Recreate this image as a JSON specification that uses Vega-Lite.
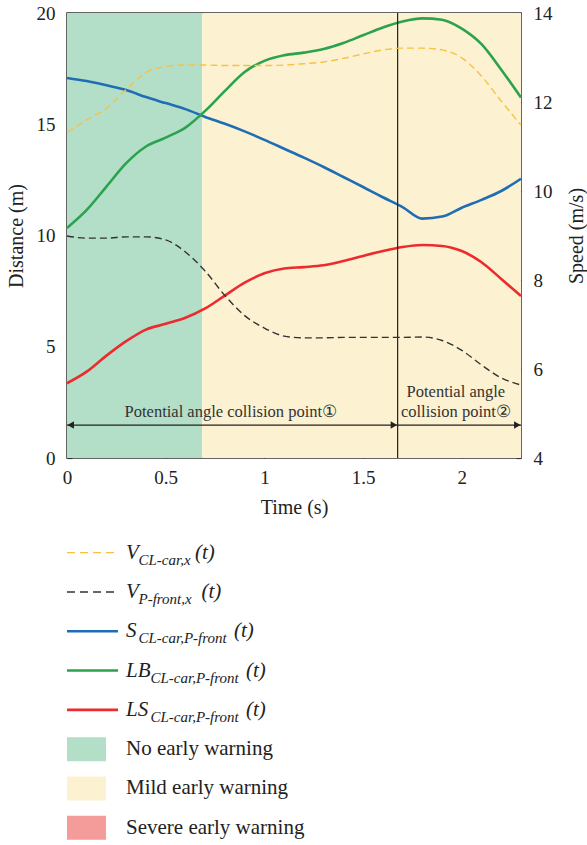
{
  "$schema": "https://vega.github.io/schema/vega-lite/v6.json",
  "background": "white",
  "padding": {"left": 5, "top": 3, "right": 0, "bottom": 5},
  "config": {
    "font": "Liberation Serif",
    "view": {"stroke": "#333", "strokeWidth": 1.5},
    "axis": {
      "labelFont": "Liberation Serif", "titleFont": "Liberation Serif",
      "labelFontSize": 19, "titleFontSize": 20, "titleFontWeight": "normal",
      "labelColor": "#222", "titleColor": "#222", "domain": false,
      "tickColor": "#333", "tickWidth": 1.2, "grid": false, "tickSize": -5, "labelPadding": 15,
      "labelFlush": false, "labelOverlap": false, "titlePadding": 10
    },
    "axisY": {"labelPadding": 17}
  },
  "datasets": {
    "curves": [
      {"t":0,"series":"S_CL-car,P-front","v":17.08},{"t":0.1,"series":"S_CL-car,P-front","v":16.94},{"t":0.2,"series":"S_CL-car,P-front","v":16.75},{"t":0.3,"series":"S_CL-car,P-front","v":16.54},{"t":0.4,"series":"S_CL-car,P-front","v":16.22},{"t":0.5,"series":"S_CL-car,P-front","v":15.95},{"t":0.6,"series":"S_CL-car,P-front","v":15.68},{"t":0.7,"series":"S_CL-car,P-front","v":15.33},{"t":0.8,"series":"S_CL-car,P-front","v":15.02},{"t":0.9,"series":"S_CL-car,P-front","v":14.68},{"t":1.0,"series":"S_CL-car,P-front","v":14.3},{"t":1.1,"series":"S_CL-car,P-front","v":13.9},{"t":1.2,"series":"S_CL-car,P-front","v":13.5},{"t":1.3,"series":"S_CL-car,P-front","v":13.08},{"t":1.4,"series":"S_CL-car,P-front","v":12.63},{"t":1.5,"series":"S_CL-car,P-front","v":12.18},{"t":1.6,"series":"S_CL-car,P-front","v":11.72},{"t":1.7,"series":"S_CL-car,P-front","v":11.28},{"t":1.8,"series":"S_CL-car,P-front","v":10.76},{"t":1.9,"series":"S_CL-car,P-front","v":10.85},{"t":2.0,"series":"S_CL-car,P-front","v":11.25},{"t":2.1,"series":"S_CL-car,P-front","v":11.6},{"t":2.2,"series":"S_CL-car,P-front","v":12.0},{"t":2.3,"series":"S_CL-car,P-front","v":12.55},
      {"t":0,"series":"LB_CL-car,P-front","v":10.34},{"t":0.1,"series":"LB_CL-car,P-front","v":11.15},{"t":0.2,"series":"LB_CL-car,P-front","v":12.2},{"t":0.3,"series":"LB_CL-car,P-front","v":13.25},{"t":0.4,"series":"LB_CL-car,P-front","v":14.0},{"t":0.5,"series":"LB_CL-car,P-front","v":14.4},{"t":0.6,"series":"LB_CL-car,P-front","v":14.85},{"t":0.7,"series":"LB_CL-car,P-front","v":15.6},{"t":0.8,"series":"LB_CL-car,P-front","v":16.5},{"t":0.9,"series":"LB_CL-car,P-front","v":17.35},{"t":1.0,"series":"LB_CL-car,P-front","v":17.85},{"t":1.1,"series":"LB_CL-car,P-front","v":18.1},{"t":1.2,"series":"LB_CL-car,P-front","v":18.22},{"t":1.3,"series":"LB_CL-car,P-front","v":18.38},{"t":1.4,"series":"LB_CL-car,P-front","v":18.65},{"t":1.5,"series":"LB_CL-car,P-front","v":19.0},{"t":1.6,"series":"LB_CL-car,P-front","v":19.35},{"t":1.7,"series":"LB_CL-car,P-front","v":19.62},{"t":1.8,"series":"LB_CL-car,P-front","v":19.76},{"t":1.9,"series":"LB_CL-car,P-front","v":19.7},{"t":2.0,"series":"LB_CL-car,P-front","v":19.3},{"t":2.1,"series":"LB_CL-car,P-front","v":18.6},{"t":2.2,"series":"LB_CL-car,P-front","v":17.45},{"t":2.3,"series":"LB_CL-car,P-front","v":16.2},
      {"t":0,"series":"LS_CL-car,P-front","v":3.36},{"t":0.1,"series":"LS_CL-car,P-front","v":3.88},{"t":0.2,"series":"LS_CL-car,P-front","v":4.6},{"t":0.3,"series":"LS_CL-car,P-front","v":5.25},{"t":0.4,"series":"LS_CL-car,P-front","v":5.77},{"t":0.5,"series":"LS_CL-car,P-front","v":6.03},{"t":0.6,"series":"LS_CL-car,P-front","v":6.3},{"t":0.7,"series":"LS_CL-car,P-front","v":6.72},{"t":0.8,"series":"LS_CL-car,P-front","v":7.3},{"t":0.9,"series":"LS_CL-car,P-front","v":7.88},{"t":1.0,"series":"LS_CL-car,P-front","v":8.3},{"t":1.1,"series":"LS_CL-car,P-front","v":8.52},{"t":1.2,"series":"LS_CL-car,P-front","v":8.58},{"t":1.3,"series":"LS_CL-car,P-front","v":8.66},{"t":1.4,"series":"LS_CL-car,P-front","v":8.85},{"t":1.5,"series":"LS_CL-car,P-front","v":9.08},{"t":1.6,"series":"LS_CL-car,P-front","v":9.3},{"t":1.7,"series":"LS_CL-car,P-front","v":9.48},{"t":1.8,"series":"LS_CL-car,P-front","v":9.57},{"t":1.9,"series":"LS_CL-car,P-front","v":9.53},{"t":2.0,"series":"LS_CL-car,P-front","v":9.3},{"t":2.1,"series":"LS_CL-car,P-front","v":8.8},{"t":2.2,"series":"LS_CL-car,P-front","v":8.05},{"t":2.3,"series":"LS_CL-car,P-front","v":7.28},
      {"t":0,"series":"V_CL-car,x","v":11.32},{"t":0.1,"series":"V_CL-car,x","v":11.6},{"t":0.2,"series":"V_CL-car,x","v":11.86},{"t":0.3,"series":"V_CL-car,x","v":12.28},{"t":0.4,"series":"V_CL-car,x","v":12.66},{"t":0.5,"series":"V_CL-car,x","v":12.8},{"t":0.6,"series":"V_CL-car,x","v":12.83},{"t":0.7,"series":"V_CL-car,x","v":12.83},{"t":0.8,"series":"V_CL-car,x","v":12.82},{"t":0.9,"series":"V_CL-car,x","v":12.82},{"t":1.0,"series":"V_CL-car,x","v":12.82},{"t":1.1,"series":"V_CL-car,x","v":12.83},{"t":1.2,"series":"V_CL-car,x","v":12.86},{"t":1.3,"series":"V_CL-car,x","v":12.9},{"t":1.4,"series":"V_CL-car,x","v":12.98},{"t":1.5,"series":"V_CL-car,x","v":13.08},{"t":1.6,"series":"V_CL-car,x","v":13.17},{"t":1.7,"series":"V_CL-car,x","v":13.21},{"t":1.8,"series":"V_CL-car,x","v":13.21},{"t":1.9,"series":"V_CL-car,x","v":13.17},{"t":2.0,"series":"V_CL-car,x","v":12.99},{"t":2.1,"series":"V_CL-car,x","v":12.58},{"t":2.2,"series":"V_CL-car,x","v":12.02},{"t":2.3,"series":"V_CL-car,x","v":11.48},
      {"t":0,"series":"V_P-front,x","v":8.99},{"t":0.1,"series":"V_P-front,x","v":8.94},{"t":0.2,"series":"V_P-front,x","v":8.94},{"t":0.3,"series":"V_P-front,x","v":8.97},{"t":0.4,"series":"V_P-front,x","v":8.97},{"t":0.5,"series":"V_P-front,x","v":8.9},{"t":0.6,"series":"V_P-front,x","v":8.63},{"t":0.7,"series":"V_P-front,x","v":8.2},{"t":0.8,"series":"V_P-front,x","v":7.65},{"t":0.9,"series":"V_P-front,x","v":7.2},{"t":1.0,"series":"V_P-front,x","v":6.92},{"t":1.1,"series":"V_P-front,x","v":6.74},{"t":1.2,"series":"V_P-front,x","v":6.7},{"t":1.3,"series":"V_P-front,x","v":6.7},{"t":1.4,"series":"V_P-front,x","v":6.71},{"t":1.5,"series":"V_P-front,x","v":6.71},{"t":1.6,"series":"V_P-front,x","v":6.71},{"t":1.7,"series":"V_P-front,x","v":6.71},{"t":1.8,"series":"V_P-front,x","v":6.72},{"t":1.9,"series":"V_P-front,x","v":6.64},{"t":2.0,"series":"V_P-front,x","v":6.42},{"t":2.1,"series":"V_P-front,x","v":6.09},{"t":2.2,"series":"V_P-front,x","v":5.8},{"t":2.3,"series":"V_P-front,x","v":5.64}
    ],
    "regions": [
      {"t0": 0, "t1": 0.685, "level": "No early warning"},
      {"t0": 0.685, "t1": 2.3, "level": "Mild early warning"}
    ],
    "marker": [{"t": 1.675}],
    "arrows": [{"t0": 0, "t1": 2.3, "y": 1.48}],
    "heads": [
      {"t": 0.019, "y": 1.48, "dir": "left"},
      {"t": 1.656, "y": 1.48, "dir": "right"},
      {"t": 2.281, "y": 1.48, "dir": "right"}
    ],
    "notes": [
      {"t": 0.83, "y": 2.07, "label": "Potential angle collision point①"},
      {"t": 1.97, "y": 2.97, "label": "Potential angle"},
      {"t": 1.97, "y": 2.07, "label": "collision point②"}
    ],
    "legend": [
      {"series": "V_CL-car,x", "kind": "dash", "main": "V", "sub": "CL-car,x"},
      {"series": "V_P-front,x", "kind": "dash", "main": "V", "sub": "P-front,x"},
      {"series": "S_CL-car,P-front", "kind": "solid", "main": "S", "sub": "CL-car,P-front"},
      {"series": "LB_CL-car,P-front", "kind": "solid", "main": "LB", "sub": "CL-car,P-front"},
      {"series": "LS_CL-car,P-front", "kind": "solid", "main": "LS", "sub": "CL-car,P-front"},
      {"series": "No early warning", "kind": "area", "main": "No early warning", "sub": ""},
      {"series": "Mild early warning", "kind": "area", "main": "Mild early warning", "sub": ""},
      {"series": "Severe early warning", "kind": "area", "main": "Severe early warning", "sub": ""}
    ]
  },
  "spacing": 15,
  "vconcat": [
    {
      "width": 454,
      "height": 445,
      "layer": [
        {
          "layer": [
            {
              "data": {"name": "regions"},
              "mark": {"type": "rect"},
              "encoding": {
                "x": {"field": "t0", "type": "quantitative", "scale": {"domain": [0, 2.3], "nice": false, "zero": false}, "axis": {"title": "Time (s)", "values": [0, 0.5, 1, 1.5, 2], "format": "~g"}},
                "x2": {"field": "t1"},
                "color": {"field": "level", "type": "nominal", "legend": null,
                  "scale": {"domain": ["V_CL-car,x", "V_P-front,x", "S_CL-car,P-front", "LB_CL-car,P-front", "LS_CL-car,P-front", "No early warning", "Mild early warning", "Severe early warning"],
                            "range": ["#f6c244", "#333333", "#1f6db5", "#2ba24c", "#ec2b2e", "#b3dfc9", "#fcf1d0", "#f39c99"]}}
              }
            },
            {
              "data": {"name": "curves"},
              "transform": [{"filter": "datum.series=='S_CL-car,P-front' || datum.series=='LB_CL-car,P-front' || datum.series=='LS_CL-car,P-front'"}],
              "mark": {"type": "line", "strokeWidth": 2.6, "interpolate": "monotone"},
              "encoding": {
                "x": {"field": "t", "type": "quantitative", "axis": {"title": "Time (s)", "values": [0, 0.5, 1, 1.5, 2], "format": "~g"}},
                "y": {"field": "v", "type": "quantitative", "scale": {"domain": [0, 20], "nice": false}, "axis": {"title": "Distance (m)", "values": [0, 5, 10, 15, 20]}},
                "color": {"field": "series", "type": "nominal", "legend": null}
              }
            },
            {
              "data": {"name": "marker"},
              "mark": {"type": "rule", "color": "#222", "strokeWidth": 1.2},
              "encoding": {"x": {"field": "t", "type": "quantitative", "axis": {"title": "Time (s)", "values": [0, 0.5, 1, 1.5, 2], "format": "~g"}}}
            },
            {
              "data": {"name": "arrows"},
              "mark": {"type": "rule", "color": "#222", "strokeWidth": 1.2},
              "encoding": {
                "x": {"field": "t0", "type": "quantitative", "axis": {"title": "Time (s)", "values": [0, 0.5, 1, 1.5, 2], "format": "~g"}},
                "x2": {"field": "t1"},
                "y": {"field": "y", "type": "quantitative", "axis": {"title": "Distance (m)", "values": [0, 5, 10, 15, 20]}}
              }
            },
            {
              "data": {"name": "heads"},
              "mark": {"type": "point", "filled": true, "color": "#222", "opacity": 1, "size": 55},
              "encoding": {
                "x": {"field": "t", "type": "quantitative", "axis": {"title": "Time (s)", "values": [0, 0.5, 1, 1.5, 2], "format": "~g"}},
                "y": {"field": "y", "type": "quantitative", "axis": {"title": "Distance (m)", "values": [0, 5, 10, 15, 20]}},
                "shape": {"field": "dir", "type": "nominal", "legend": null, "scale": {"domain": ["left", "right"], "range": ["triangle-left", "triangle-right"]}}
              }
            },
            {
              "data": {"name": "notes"},
              "mark": {"type": "text", "fontSize": 16.5, "color": "#333", "font": "Liberation Serif", "baseline": "middle"},
              "encoding": {
                "x": {"field": "t", "type": "quantitative", "axis": {"title": "Time (s)", "values": [0, 0.5, 1, 1.5, 2], "format": "~g"}},
                "y": {"field": "y", "type": "quantitative", "axis": {"title": "Distance (m)", "values": [0, 5, 10, 15, 20]}},
                "text": {"field": "label"}
              }
            }
          ]
        },
        {
          "data": {"name": "curves"},
          "transform": [{"filter": "datum.series=='V_CL-car,x' || datum.series=='V_P-front,x'"}],
          "mark": {"type": "line", "strokeWidth": 1.4, "strokeDash": [7, 4], "interpolate": "monotone"},
          "encoding": {
            "x": {"field": "t", "type": "quantitative", "axis": {"orient": "top", "labels": false, "title": null, "values": [0.5, 1, 1.5, 2]}},
            "y": {"field": "v", "type": "quantitative", "scale": {"domain": [4, 14], "nice": false, "zero": false}, "axis": {"orient": "right", "title": "Speed (m/s)", "titleAngle": 270, "titleBaseline": "top", "titlePadding": 14, "values": [4, 6, 8, 10, 12, 14]}},
            "color": {"field": "series", "type": "nominal", "legend": null}
          }
        }
      ],
      "resolve": {"scale": {"y": "independent"}, "axis": {"x": "independent"}}
    },
    {
      "width": 520,
      "height": {"step": 39.3},
      "view": {"stroke": null},
      "data": {"name": "legend"},
      "encoding": {
        "y": {"field": "series", "type": "nominal", "axis": null,
          "scale": {"domain": ["V_CL-car,x", "V_P-front,x", "S_CL-car,P-front", "LB_CL-car,P-front", "LS_CL-car,P-front", "No early warning", "Mild early warning", "Severe early warning"], "paddingInner": 0.39, "paddingOuter": 0.195}}
      },
      "layer": [
        {
          "transform": [{"filter": "datum.kind=='dash'"}],
          "mark": {"type": "rule", "strokeWidth": 1.4, "strokeDash": [8, 5]},
          "encoding": {
            "x": {"datum": 0, "type": "quantitative", "scale": {"domain": [0, 52], "nice": false, "zero": false}, "axis": null},
            "x2": {"datum": 4.8},
            "color": {"field": "series", "type": "nominal", "legend": null}
          }
        },
        {
          "transform": [{"filter": "datum.kind=='solid'"}],
          "mark": {"type": "rule", "strokeWidth": 2.6},
          "encoding": {
            "x": {"datum": 0, "type": "quantitative", "axis": null},
            "x2": {"datum": 5.1},
            "color": {"field": "series", "type": "nominal", "legend": null}
          }
        },
        {
          "transform": [{"filter": "datum.kind=='area'"}],
          "mark": {"type": "rect", "height": 24},
          "encoding": {
            "x": {"datum": 0, "type": "quantitative", "axis": null},
            "x2": {"datum": 3.9},
            "color": {"field": "series", "type": "nominal", "legend": null}
          }
        },
        {
          "transform": [{"filter": "datum.kind=='area'"}],
          "mark": {"type": "text", "align": "left", "baseline": "middle", "fontSize": 21, "color": "#222", "font": "Liberation Serif"},
          "encoding": {
            "x": {"datum": 5.9, "type": "quantitative", "axis": null},
            "text": {"field": "main"}
          }
        },
        {
          "transform": [{"filter": "datum.kind!='area'"}],
          "mark": {"type": "text", "align": "left", "baseline": "middle", "fontSize": 21, "fontStyle": "italic", "color": "#222", "font": "Liberation Serif"},
          "encoding": {
            "x": {"datum": 5.9, "type": "quantitative", "axis": null},
            "text": {"field": "main"}
          }
        },
        {
          "transform": [{"filter": "datum.kind!='area'"}],
          "mark": {"type": "text", "align": "left", "baseline": "middle", "fontSize": 15, "fontStyle": "italic", "color": "#222", "font": "Liberation Serif", "dy": 7, "dx": {"expr": "length(datum.main)*12+0.5"}},
          "encoding": {
            "x": {"datum": 5.9, "type": "quantitative", "axis": null},
            "text": {"field": "sub"}
          }
        },
        {
          "transform": [{"filter": "datum.kind!='area'"}],
          "mark": {"type": "text", "align": "left", "baseline": "middle", "fontSize": 21, "fontStyle": "italic", "color": "#222", "font": "Liberation Serif", "text": "(t)", "dx": {"expr": "length(datum.main)*12 + length(datum.sub)*6.5 + 5"}},
          "encoding": {
            "x": {"datum": 5.9, "type": "quantitative", "axis": null}
          }
        }
      ]
    }
  ]
}
